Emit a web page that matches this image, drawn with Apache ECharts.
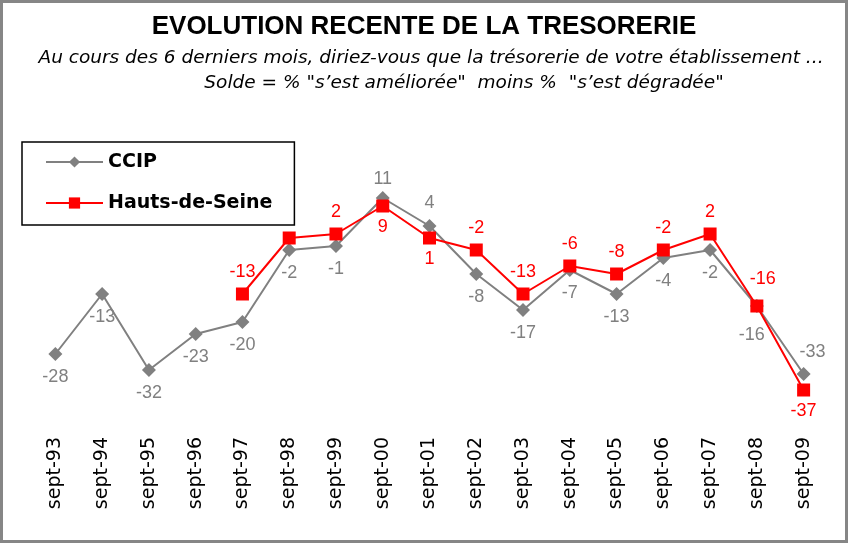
<!DOCTYPE html>
<html>
<head>
<meta charset="utf-8">
<script src="https://cdn.jsdelivr.net/npm/echarts@6/dist/echarts.min.js"></script>
<style>
  html, body { margin: 0; padding: 0; background: #fff; }
  #chart { width: 848px; height: 543px; }
</style>
</head>
<body>
<div id="chart"></div>
<script>
// categories and values
const periods = ['sept-93', 'sept-94', 'sept-95', 'sept-96', 'sept-97', 'sept-98', 'sept-99', 'sept-00',
  'sept-01', 'sept-02', 'sept-03', 'sept-04', 'sept-05', 'sept-06', 'sept-07', 'sept-08', 'sept-09'];
const ccip = [-28, -13, -32, -23, -20, -2, -1, 11, 4, -8, -17, -7, -13, -4, -2, -16, -33];
const hautsDeSeine = [null, null, null, null, -13, 1, 2, 9, 1, -2, -13, -6, -8, -2, 2, -16, -37];

// where each value label sits (styling only)
const ccipLabelPos = ['bottom', 'bottom', 'bottom', 'bottom', 'bottom', 'bottom', 'bottom', 'top',
  'top', 'bottom', 'bottom', 'bottom', 'bottom', 'bottom', 'bottom', 'bottom', 'top'];
const hdsLabelPos = [null, null, null, null, 'top', null, 'top', 'bottom',
  'bottom', 'top', 'top', 'top', 'top', 'top', 'top', 'top', 'bottom'];
const labelShift = { ccip: { 7: [0, 4], 15: [-5, 6], 16: [9, 1] }, hds: { 15: [6, -5] } };

const chart = echarts.init(document.getElementById('chart'));

const buildData = (vals, pos, shift) => vals.map((v, i) => {
  if (v === null) return null;
  if (!pos[i]) return { value: v, label: { show: false } };
  return { value: v, label: { position: pos[i], offset: shift[i] || [0, 0] } };
});

const subStyle = { fontFamily: 'DejaVu Sans', fontSize: 18.5, fontStyle: 'italic', fontWeight: 'normal', color: '#000' };

const option = {
  animation: false,
  title: [
    {
      text: 'EVOLUTION RECENTE DE LA TRESORERIE',
      left: 'center', top: 9,
      textStyle: { fontFamily: 'Liberation Sans', fontSize: 26, fontWeight: 'bold', color: '#000' }
    },
    {
      text: 'Au cours des 6 derniers mois, diriez-vous que la trésorerie de votre établissement ...',
      left: 426, top: 44, textAlign: 'center',
      textStyle: subStyle
    },
    {
      text: 'Solde = % "s\u2019est améliorée"  moins %  "s\u2019est dégradée"',
      left: 459, top: 69, textAlign: 'center',
      textStyle: subStyle
    }
  ],
  legend: {
    orient: 'vertical',
    left: 22, top: 142,
    padding: [10, 22, 12, 23],
    itemWidth: 57, itemHeight: 14, itemGap: 21,
    borderColor: '#000', borderWidth: 1.5,
    textStyle: { fontFamily: 'DejaVu Sans', fontSize: 19, lineHeight: 20, fontWeight: 'bold', color: '#000' },
    data: ['CCIP', 'Hauts-de-Seine']
  },
  grid: { left: 32, right: 21, top: 162, bottom: 109 },
  xAxis: {
    type: 'category',
    data: periods,
    axisLine: { show: false },
    axisTick: { show: false },
    axisLabel: { rotate: 90, margin: 3, fontFamily: 'DejaVu Sans', fontSize: 19, color: '#000' }
  },
  yAxis: {
    type: 'value', min: -48, max: 20, show: false,
    splitLine: { show: false }
  },
  series: [
    {
      name: 'CCIP',
      type: 'line',
      data: buildData(ccip, ccipLabelPos, labelShift.ccip),
      symbol: 'diamond', symbolSize: 14,
      lineStyle: { color: '#808080', width: 2 },
      itemStyle: { color: '#808080' },
      label: { show: true, distance: 7, fontFamily: 'Liberation Sans', fontSize: 18, color: '#808080' },
      z: 2
    },
    {
      name: 'Hauts-de-Seine',
      type: 'line',
      data: buildData(hautsDeSeine, hdsLabelPos, labelShift.hds),
      symbol: 'rect', symbolSize: 13,
      lineStyle: { color: '#ff0000', width: 2 },
      itemStyle: { color: '#ff0000' },
      label: { show: true, distance: 6, fontFamily: 'Liberation Sans', fontSize: 18, color: '#ff0000' },
      z: 3
    }
  ],
  graphic: [
    {
      type: 'rect', silent: true,
      shape: { x: 1.5, y: 1.5, width: 845, height: 540 },
      style: { fill: null, stroke: '#868686', lineWidth: 3 }
    }
  ]
};

chart.setOption(option);
</script>
</body>
</html>
